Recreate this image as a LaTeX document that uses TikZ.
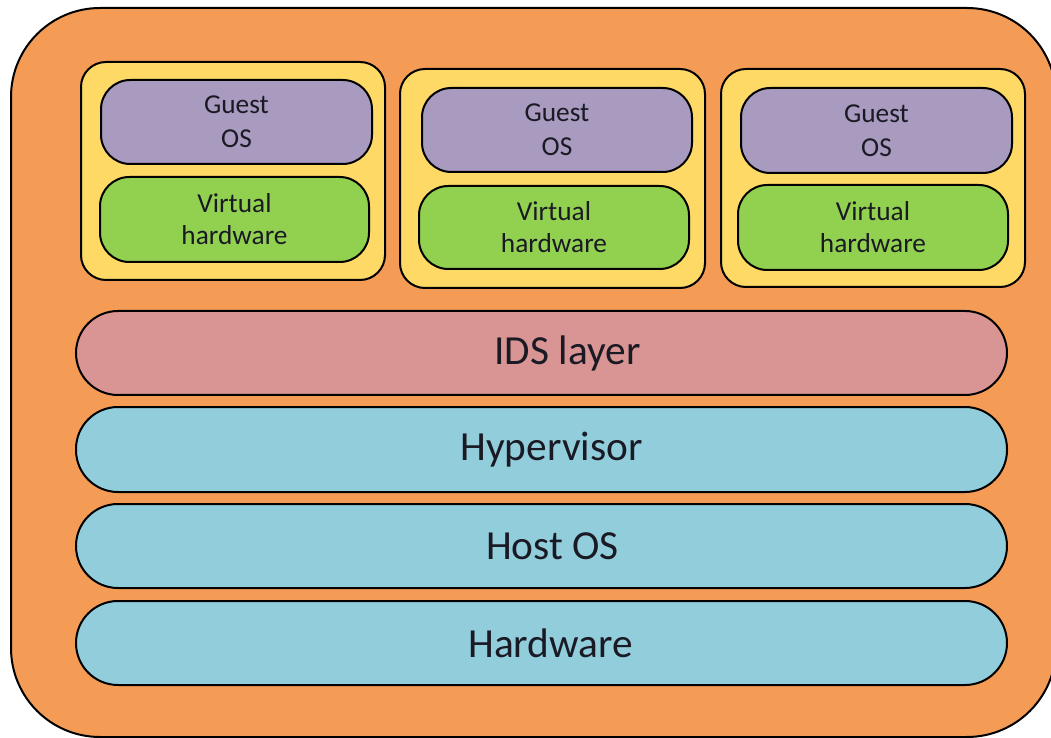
\documentclass[tikz,border=0pt]{standalone}
\usepackage{fontspec}
\setmainfont{Carlito}
\definecolor{outerc}{HTML}{F49C56}
\definecolor{vmc}{HTML}{FED966}
\definecolor{guestc}{HTML}{A99ABF}
\definecolor{vhwc}{HTML}{92D150}
\definecolor{idsc}{HTML}{D99594}
\definecolor{layerc}{HTML}{92CDDB}
\definecolor{txtc}{HTML}{1A1A24}
\tikzset{
  bx/.style={draw=black, line width=1.5pt, rectangle, inner sep=0pt, align=center, text=txtc},
  outerbox/.style={bx, fill=outerc, rounded corners=66.75pt},
  vmbox/.style={bx, fill=vmc, rounded corners=18.75pt},
  guestbox/.style={bx, fill=guestc, rounded corners=22pt, font=\fontsize{20.5}{25.5}\selectfont},
  vhwbox/.style={bx, fill=vhwc, rounded corners=22pt, font=\fontsize{20.5}{24}\selectfont},
  layerbox/.style={bx, rounded corners=31.5pt, font=\fontsize{31}{36}\selectfont},
}
% \bxnode{name}{style}{x1}{y1}{x2}{y2}{text}  (pixel coordinates)
\newcommand{\bxnode}[7]{%
  \node[#2, minimum width={(#5-#3)*0.75pt}, minimum height={(#6-#4)*0.75pt}]
    (#1) at ({(#3+#5)/2},{(#4+#6)/2}) {#7};}
\begin{document}
\begin{tikzpicture}[x=0.75pt, y=-0.75pt]
\useasboundingbox (0,0) rectangle (1051,738);
\fill[white] (0,0) rectangle (1051,738);
\bxnode{outer}{outerbox}{11}{8}{1056}{737}{}
% VM 1
\bxnode{vm1}{vmbox}{81}{62}{385}{280}{}
\bxnode{g1}{guestbox}{101}{80}{372}{164}{Guest\\OS}
\bxnode{h1}{vhwbox}{100}{177}{369}{262}{Virtual\\hardware}
% VM 2
\bxnode{vm2}{vmbox}{400}{69}{705}{288}{}
\bxnode{g2}{guestbox}{422}{88}{692}{172}{Guest\\OS}
\bxnode{h2}{vhwbox}{419}{186}{689}{269}{Virtual\\hardware}
% VM 3
\bxnode{vm3}{vmbox}{721}{69}{1025}{287}{}
\bxnode{g3}{guestbox}{741}{88}{1012}{173}{Guest\\OS}
\bxnode{h3}{vhwbox}{738}{185}{1008}{270}{Virtual\\hardware}
% layers
\bxnode{ids}{layerbox, fill=idsc}{76}{311}{1007}{395}{\hspace*{39pt}IDS layer}
\bxnode{hyp}{layerbox, fill=layerc}{76}{407}{1007}{492}{\hspace*{15pt}Hypervisor}
\bxnode{host}{layerbox, fill=layerc}{76}{504}{1007}{588}{\hspace*{16.5pt}Host OS}
\bxnode{hw}{layerbox, fill=layerc}{76}{601}{1007}{685}{\hspace*{13.5pt}Hardware}
\end{tikzpicture}
\end{document}
